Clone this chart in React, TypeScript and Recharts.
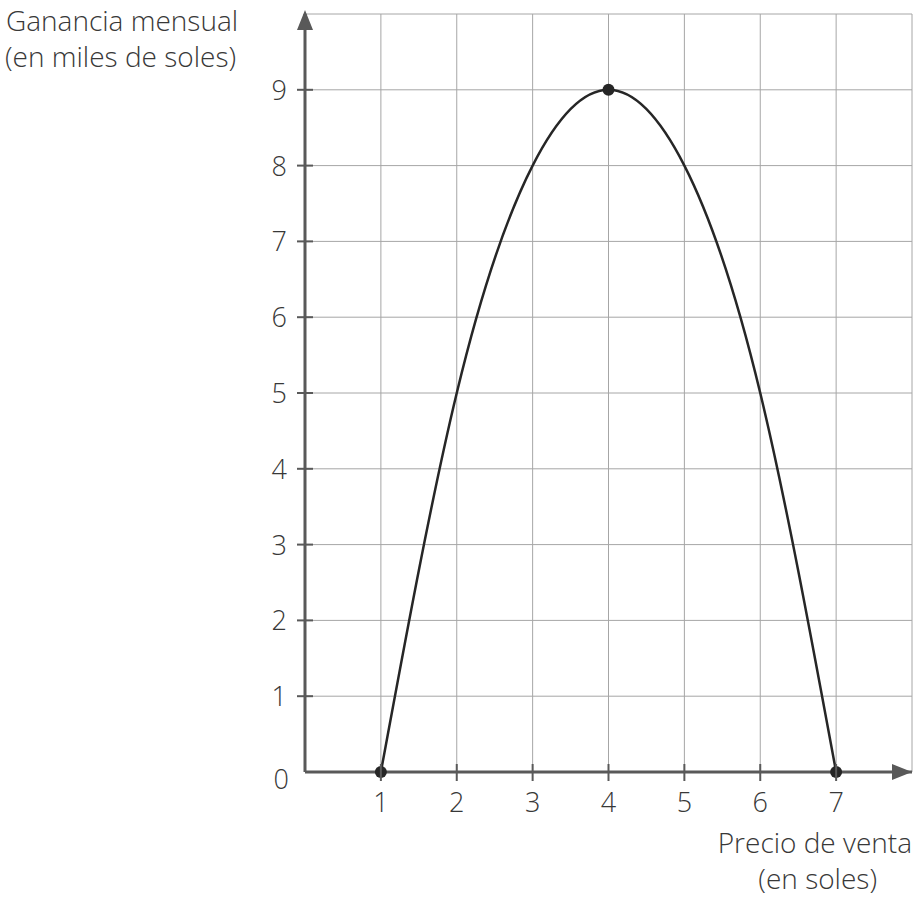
import React from "react";
import {
  ComposedChart,
  Line,
  Scatter,
  XAxis,
  YAxis,
  CartesianGrid,
  ReferenceDot,
} from "recharts";

// precio de venta (soles) -> ganancia mensual (miles de soles)
const precios = [1, 2, 3, 4, 5, 6, 7];
const ganancias = [0, 5, 8, 9, 8, 5, 0];

// puntos marcados en la curva
const puntosX = [1, 4, 7];
const puntosY = [0, 9, 0];

const xTicks = [1, 2, 3, 4, 5, 6, 7, 8];
const yTicks = [0, 1, 2, 3, 4, 5, 6, 7, 8, 9, 10];

const curva = precios.map((x, i) => ({ x, y: ganancias[i] }));
const puntos = puntosX.map((x, i) => ({ x, y: puntosY[i] }));

const FONT = "'Open Sans', 'DejaVu Sans', sans-serif";
const TEXT = "#383838";
const AXIS = "#595959";
const GRID = "#a6a6a6";
const CURVE = "#262626";

const YTick = (props: any) => {
  const { x, y, payload } = props;
  const v = payload.value;
  if (v === 10) return <g />;
  return (
    <g>
      {v !== 0 && <line x1={x - 8} x2={x + 8} y1={y} y2={y} stroke={AXIS} strokeWidth={2} />}
      <text
        x={v === 0 ? x - 16 : x - 18}
        y={v === 0 ? y + 17 : y + 10}
        textAnchor="end"
        fontFamily={FONT}
        fontWeight={300}
        fontSize={27}
        fill={TEXT}
      >
        {v}
      </text>
    </g>
  );
};

const XTick = (props: any) => {
  const { x, y, payload } = props;
  const v = payload.value;
  if (v === 8) return <g />;
  return (
    <g>
      <line x1={x} x2={x} y1={y - 8} y2={y + 9} stroke={AXIS} strokeWidth={2} />
      <text
        x={x}
        y={y + 40}
        textAnchor="middle"
        fontFamily={FONT}
        fontWeight={300}
        fontSize={27}
        fill={TEXT}
      >
        {v}
      </text>
    </g>
  );
};

const ArrowRight = (props: any) => {
  const { cx, cy } = props;
  return <path d={`M${cx} ${cy} L${cx - 20} ${cy - 8} L${cx - 20} ${cy + 8} Z`} fill={AXIS} />;
};

const ArrowUp = (props: any) => {
  const { cx, cy } = props;
  return <path d={`M${cx} ${cy - 4} L${cx - 8} ${cy + 16} L${cx + 8} ${cy + 16} Z`} fill={AXIS} />;
};

const labelStyle: React.CSSProperties = {
  position: "absolute",
  fontFamily: FONT,
  fontWeight: 300,
  fontSize: 28,
  color: TEXT,
  lineHeight: "36px",
  height: 36,
  whiteSpace: "nowrap",
};

export default function App() {
  return (
    <div
      style={{
        position: "absolute",
        left: 0,
        top: 0,
        width: 917,
        height: 897,
        background: "#fff",
        overflow: "hidden",
      }}
    >
      <ComposedChart
        width={917}
        height={897}
        data={curva}
        margin={{ top: 14, right: 5, left: 0, bottom: 0 }}
      >
        <CartesianGrid stroke={GRID} strokeWidth={1} />
        <XAxis
          dataKey="x"
          type="number"
          domain={[0, 8]}
          ticks={xTicks}
          height={125}
          tickSize={0}
          tickMargin={0}
          tickLine={false}
          axisLine={{ stroke: AXIS, strokeWidth: 3 }}
          tick={<XTick />}
          interval={0}
        />
        <YAxis
          dataKey="y"
          type="number"
          domain={[0, 10]}
          ticks={yTicks}
          width={305}
          tickSize={0}
          tickMargin={0}
          tickLine={false}
          axisLine={{ stroke: AXIS, strokeWidth: 3 }}
          tick={<YTick />}
          interval={0}
        />
        <Line
          type="natural"
          dataKey="y"
          stroke={CURVE}
          strokeWidth={2.5}
          dot={false}
          activeDot={false}
          isAnimationActive={false}
        />
        <Scatter
          data={puntos}
          dataKey="y"
          fill={CURVE}
          shape={(p: any) => <circle cx={p.cx} cy={p.cy} r={6} fill={CURVE} />}
          isAnimationActive={false}
        />
        <ReferenceDot x={8} y={0} ifOverflow="visible" shape={<ArrowRight />} />
        <ReferenceDot x={0} y={10} ifOverflow="visible" shape={<ArrowUp />} />
      </ComposedChart>
      <div style={{ ...labelStyle, left: 6, top: 2 }}>Ganancia mensual</div>
      <div style={{ ...labelStyle, left: 5, top: 38 }}>(en miles de soles)</div>
      <div style={{ ...labelStyle, right: 5, top: 824 }}>Precio de venta</div>
      <div style={{ ...labelStyle, right: 40, top: 860 }}>(en soles)</div>
    </div>
  );
}
